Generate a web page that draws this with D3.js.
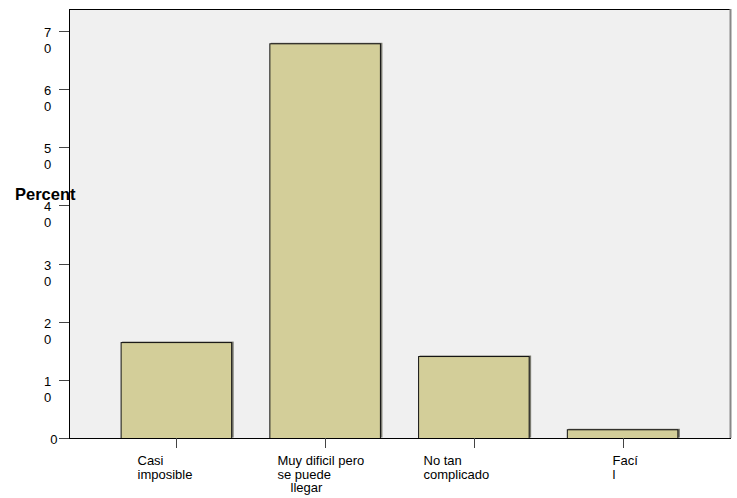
<!DOCTYPE html>
<html>
<head>
<meta charset="utf-8">
<script src="https://cdn.jsdelivr.net/npm/d3@7"></script>
<style>
  html, body { margin: 0; padding: 0; background: #ffffff; }
  svg { display: block; }
  text { font-family: "Liberation Sans", Arial, sans-serif; fill: #000; }
</style>
</head>
<body>
<svg id="chart" width="737" height="498"></svg>
<script>
// ---- data ----
const categories = ["Casi imposible", "Muy dificil pero se puede llegar", "No tan complicado", "Fací l"];
const percentValues = [16.5, 67.9, 14.1, 1.5];
const yTickValues = [0, 10, 20, 30, 40, 50, 60, 70];
const yTickLabels = ["0", "1\n0", "2\n0", "3\n0", "4\n0", "5\n0", "6\n0", "7\n0"];
const xLabelLines = [
  ["Casi", "imposible"],
  ["Muy dificil pero", "se puede", "llegar"],
  ["No tan", "complicado"],
  ["Fací", "l"]
];
const yAxisTitle = "Percent";

// ---- layout (not data) ----
const xLabelOffsets = [
  [-39, -39],
  [-48, -48, -35],
  [-51, -51],
  [-11, -11]
];
const plot = { left: 69, right: 730, top: 9, bottom: 438 };
const barFill = "#d3ce99";
const plotBg = "#f0f0f0";

const svg = d3.select("#chart");

const x = d3.scaleBand()
  .domain(categories)
  .range([plot.left, plot.right])
  .paddingInner(0.25)
  .paddingOuter(0.347);

const y = d3.scaleLinear()
  .domain([0, 73.8])
  .range([plot.bottom, plot.top]);

// plot background
svg.append("rect")
  .attr("x", plot.left).attr("y", plot.top)
  .attr("width", plot.right - plot.left).attr("height", plot.bottom - plot.top)
  .attr("fill", plotBg);

// bar shadows
const data = categories.map((c, i) => ({ c, v: percentValues[i], i }));
svg.append("g").selectAll("rect").data(data).join("rect")
  .attr("x", d => x(d.c) + 1.5)
  .attr("y", d => y(d.v) - 0.5)
  .attr("width", x.bandwidth())
  .attr("height", d => y(0) - y(d.v))
  .attr("fill", "#7a7a70");

// bars
svg.append("g").selectAll("rect").data(data).join("rect")
  .attr("x", d => x(d.c) + 0.5)
  .attr("y", d => y(d.v) + 0.5)
  .attr("width", x.bandwidth() - 1)
  .attr("height", d => y(0) - y(d.v))
  .attr("fill", barFill)
  .attr("stroke", "#111")
  .attr("stroke-width", 1);

// frame
svg.append("line").attr("x1", plot.left).attr("x2", plot.right + 1).attr("y1", plot.top + 0.5).attr("y2", plot.top + 0.5)
  .attr("stroke", "#000").attr("stroke-width", 1);
svg.append("line").attr("x1", plot.right + 0.5).attr("x2", plot.right + 0.5).attr("y1", plot.top).attr("y2", plot.bottom)
  .attr("stroke", "#888").attr("stroke-width", 2);
svg.append("line").attr("x1", plot.left + 0.5).attr("x2", plot.left + 0.5).attr("y1", plot.top).attr("y2", plot.bottom + 1)
  .attr("stroke", "#000").attr("stroke-width", 1);
svg.append("line").attr("x1", plot.left).attr("x2", plot.right + 1).attr("y1", plot.bottom + 0.5).attr("y2", plot.bottom + 0.5)
  .attr("stroke", "#000").attr("stroke-width", 1);

// y ticks
const yt = svg.append("g");
yTickValues.forEach((v, i) => {
  const ty = Math.round(y(v)) + 0.5;
  yt.append("line").attr("x1", 59).attr("x2", plot.left).attr("y1", ty).attr("y2", ty)
    .attr("stroke", "#444").attr("stroke-width", 1);
  const lines = yTickLabels[i].split("\n");
  if (lines.length === 1) {
    yt.append("text").attr("x", 57.5).attr("y", ty + 5)
      .attr("text-anchor", "end").attr("font-size", 13).text(lines[0]);
  } else {
    lines.forEach((ln, j) => {
      yt.append("text").attr("x", 47.5).attr("y", ty + 5 + j * 16)
        .attr("text-anchor", "middle").attr("font-size", 13).text(ln);
    });
  }
});

// y title
svg.append("text").attr("x", 15).attr("y", 200)
  .attr("font-size", 16.5).attr("font-weight", "bold").text(yAxisTitle);

// x ticks & labels
const xt = svg.append("g");
categories.forEach((c, i) => {
  const cx = Math.round(x(c) + x.bandwidth() / 2) + 0.5;
  xt.append("line").attr("x1", cx).attr("x2", cx).attr("y1", plot.bottom).attr("y2", plot.bottom + 10)
    .attr("stroke", "#444").attr("stroke-width", 1);
  xLabelLines[i].forEach((ln, j) => {
    xt.append("text").attr("x", cx + xLabelOffsets[i][j]).attr("y", 465 + j * 13.5)
      .attr("font-size", 13).text(ln);
  });
});
</script>
</body>
</html>
